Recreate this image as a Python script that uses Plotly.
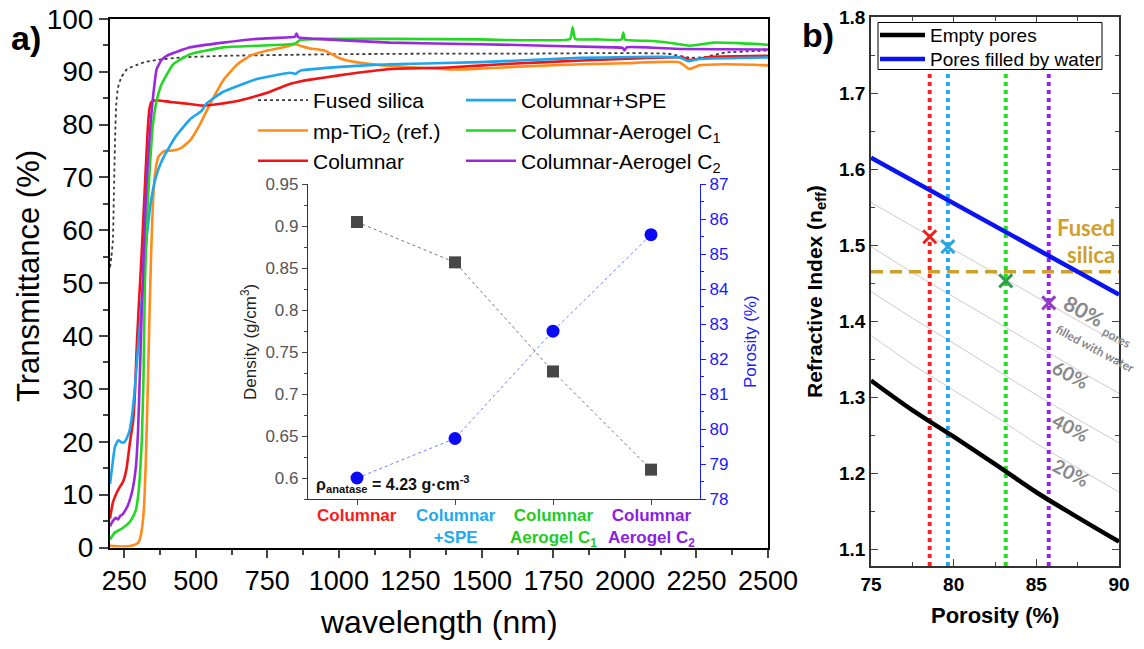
import plotly.graph_objects as go

W, H = 1144, 649
def px(x): return x / W
def py(y): return 1 - y / H

# ---------------- Panel a: transmittance spectra ----------------
fs_wl = [200, 205, 210, 214, 218, 222, 228, 240, 260, 290, 320, 360, 450, 600, 850, 1000, 1300, 1600, 1900, 2150, 2230, 2280, 2350, 2450, 2500]
fs_T  = [53, 55, 58, 68, 78, 84, 87, 89, 90.5, 91.2, 91.8, 92.2, 92.7, 93.0, 93.2, 93.3, 93.4, 93.4, 93.5, 93.4, 92.6, 92.8, 93.6, 93.9, 94.0]

ti_wl = [200, 240, 270, 290, 300, 310, 318, 325, 332, 338, 344, 350, 358, 370, 390, 420, 450, 480, 515, 550, 595, 645, 690, 750, 805, 850, 870, 900, 950, 1000, 1060, 1180, 1300, 1400, 1500, 1650, 1850, 2000, 2190, 2225, 2260, 2350, 2450, 2500]
ti_T  = [0.3, 0.2, 0.3, 0.6, 1.0, 3.0, 7, 16, 30, 44, 56, 65, 71, 74, 75, 75.1, 75.6, 77, 80.1, 83.9, 88.3, 91.4, 93, 94, 94.6, 95.2, 94.8, 94.4, 94, 92.6, 91.8, 91.1, 90.7, 90.4, 90.6, 91.0, 91.4, 91.6, 91.8, 90.5, 91.2, 91.4, 91.3, 91.2]

col_wl = [200, 210, 223, 235, 246, 258, 270, 281, 287, 293, 300, 311, 320, 328, 333, 338, 345, 360, 380, 420, 480, 520, 580, 650, 750, 830, 860, 900, 1000, 1180, 1380, 1600, 1850, 2080, 2200, 2230, 2300, 2500]
col_T  = [5.5, 8.5, 10.3, 11.5, 12.5, 15, 20, 24, 29, 37.5, 45, 56, 66, 75, 80, 83, 84.3, 84.6, 84.5, 84.2, 83.9, 83.6, 83.9, 84.5, 86, 87.7, 88.1, 88.5, 89.3, 90.5, 90.8, 91.5, 92.1, 92.6, 92.7, 92.2, 92.8, 93.0]

spe_wl = [200, 208, 217, 229, 240, 250, 258, 268, 276, 285, 293, 302, 311, 320, 328, 338, 348, 360, 380, 410, 433, 480, 520, 538, 596, 713, 829, 850, 865, 1062, 1179, 1493, 1843, 2192, 2220, 2260, 2500]
spe_T  = [12, 15.5, 19, 20.3, 19.9, 19.9, 20.6, 22, 24.5, 29, 34.4, 40.5, 46.9, 53, 58.5, 63.5, 67, 70, 73, 76, 78, 81, 82.6, 84, 86.2, 88.6, 89.8, 89.6, 90.2, 91.1, 91.4, 91.8, 92.6, 92.7, 92.0, 92.4, 92.7]

c1_wl = [200, 216, 242, 267, 280, 290, 299, 305, 311, 317, 322, 330, 337, 343, 350, 363, 381, 421, 480, 596, 713, 829, 850, 864, 946, 1179, 1493, 1808, 1817, 1826, 1900, 1988, 1994, 2000, 2100, 2192, 2230, 2309, 2400, 2500]
c1_T  = [1.5, 2.8, 3.6, 4.7, 5.8, 7, 10, 14, 20, 32, 50, 63, 70, 75, 80, 84.5, 87.7, 91.4, 93.3, 94.6, 94.9, 95.2, 95.4, 96, 96.2, 96.2, 96.1, 96.2, 98.4, 96.2, 96.1, 96.1, 97.4, 96.1, 95.8, 95.2, 94.9, 95.5, 95.4, 95.1]

c2_wl = [200, 210, 220, 228, 236, 245, 262, 279, 290, 298, 304, 310, 316, 322, 328, 335, 343, 351, 363, 380, 398, 480, 596, 713, 829, 846, 852, 858, 922, 1179, 1493, 1959, 1992, 1998, 2006, 2192, 2500]
c2_T  = [4, 5, 5.6, 5.3, 6.0, 6.3, 7.9, 11, 15, 22, 32, 43, 53, 62, 69, 75, 81, 85.5, 90.5, 92.2, 93, 94.6, 95.5, 96.2, 96.5, 96.6, 97.2, 96.5, 96.2, 95.5, 95.2, 94.6, 94.5, 94.0, 94.6, 94.3, 94.2]

wl_ticks = [250, 500, 750, 1000, 1250, 1500, 1750, 2000, 2250, 2500]
T_ticks = [0, 10, 20, 30, 40, 50, 60, 70, 80, 90, 100]

# ---------------- Inset: density / porosity ----------------
inset_cats = [0, 1, 2, 3]
inset_labels = ["Columnar", "Columnar<br>+SPE", "Columnar<br>Aerogel C<sub>1</sub>", "Columnar<br>Aerogel C<sub>2</sub>"]
inset_colors = ["#FF1A1A", "#1EAAF0", "#22CC22", "#8C1EE6"]
density = [0.905, 0.857, 0.727, 0.610]
porosity_inset = [78.6, 79.73, 82.8, 85.56]
dens_ticks = [0.6, 0.65, 0.7, 0.75, 0.8, 0.85, 0.9, 0.95]
dens_ticktext = ["0.6", "0.65", "0.7", "0.75", "0.8", "0.85", "0.9", "0.95"]
por_ticks = [78, 79, 80, 81, 82, 83, 84, 85, 86, 87]

# ---------------- Panel b: refractive index ----------------
por_grid = [75, 77.5, 80, 82.5, 85, 87.5, 90]
n_empty = [1.322, 1.283, 1.248, 1.212, 1.175, 1.142, 1.110]
n_water = [1.615, 1.585, 1.555, 1.525, 1.495, 1.465, 1.435]
n_20 = [1.381, 1.343, 1.309, 1.275, 1.239, 1.207, 1.175]
n_40 = [1.439, 1.404, 1.371, 1.337, 1.303, 1.271, 1.240]
n_60 = [1.498, 1.464, 1.432, 1.400, 1.367, 1.336, 1.305]
n_80 = [1.556, 1.525, 1.494, 1.462, 1.431, 1.400, 1.370]
sample_por = [78.55, 79.65, 83.15, 85.75]
sample_n = [1.511, 1.498, 1.453, 1.424]
vline_n = [1.078, 1.725]
fused_silica_n = 1.465
b_xticks = [75, 80, 85, 90]
b_yticks = [1.1, 1.2, 1.3, 1.4, 1.5, 1.6, 1.7, 1.8]
b_yticktext = ["1.1", "1.2", "1.3", "1.4", "1.5", "1.6", "1.7", "1.8"]
b_legend_names = ["Empty pores", "Pores filled by water"]
b_legend_colors = ["black", "#0A14F0"]

vcolors = ["#FF2020", "#22AAEE", "#22DD22", "#9922EE"]
xcolors = ["#E8201F", "#2BA5E0", "#2E9E4E", "#8E3FC0"]

fig = go.Figure()

# Panel a traces
series = [
    ("Fused silica", fs_wl, fs_T, "#3A3A3A", "dot", 1.8, "legend"),
    ("mp-TiO<sub>2</sub> (ref.)", ti_wl, ti_T, "#FF8C1A", "solid", 2.6, "legend"),
    ("Columnar", col_wl, col_T, "#F01414", "solid", 2.6, "legend"),
    ("Columnar+SPE", spe_wl, spe_T, "#1EA5EF", "solid", 2.6, "legend2"),
    ("Columnar-Aerogel C<sub>1</sub>", c1_wl, c1_T, "#22D822", "solid", 2.6, "legend2"),
    ("Columnar-Aerogel C<sub>2</sub>", c2_wl, c2_T, "#9A28DC", "solid", 2.6, "legend2"),
]
for name, xs, ys, c, d, w, lg in series:
    fig.add_trace(go.Scatter(x=xs, y=ys, mode="lines", name=name,
                             line=dict(color=c, dash=d, width=w, shape="spline", smoothing=0.4),
                             xaxis="x", yaxis="y", legend=lg))

# Inset traces
fig.add_trace(go.Scatter(x=inset_cats, y=density, mode="lines+markers", name="Density",
                         line=dict(color="#777777", dash="dot", width=1),
                         marker=dict(symbol="square", size=12, color="#474747"),
                         xaxis="x2", yaxis="y2", showlegend=False))
fig.add_trace(go.Scatter(x=inset_cats, y=porosity_inset, mode="lines+markers", name="Porosity",
                         line=dict(color="#6F7CFF", dash="dot", width=1),
                         marker=dict(symbol="circle", size=13, color="#0A0AF5"),
                         xaxis="x2", yaxis="y3", showlegend=False))

# Panel b traces
for ys in (n_20, n_40, n_60, n_80):
    fig.add_trace(go.Scatter(x=por_grid, y=ys, mode="lines",
                             line=dict(color="#CCCCCC", width=1),
                             xaxis="x4", yaxis="y4", showlegend=False))
for p, c in zip(sample_por, vcolors):
    fig.add_trace(go.Scatter(x=[p, p], y=vline_n, mode="lines",
                             line=dict(color=c, width=4, dash="dot"),
                             xaxis="x4", yaxis="y4", showlegend=False))
fig.add_trace(go.Scatter(x=[por_grid[0], por_grid[-1]], y=[fused_silica_n, fused_silica_n], mode="lines",
                         line=dict(color="#CFA02A", width=3.5, dash="12px,7px"),
                         xaxis="x4", yaxis="y4", showlegend=False))
fig.add_trace(go.Scatter(x=por_grid, y=n_empty, mode="lines", name=b_legend_names[0],
                         line=dict(color=b_legend_colors[0], width=4.5, shape="spline"),
                         xaxis="x4", yaxis="y4", showlegend=False))
fig.add_trace(go.Scatter(x=por_grid, y=n_water, mode="lines", name=b_legend_names[1],
                         line=dict(color=b_legend_colors[1], width=4.5),
                         xaxis="x4", yaxis="y4", showlegend=False))
for p, n, c in zip(sample_por, sample_n, xcolors):
    fig.add_trace(go.Scatter(x=[p], y=[n], mode="markers",
                             marker=dict(symbol="x-thin", size=13, line=dict(color=c, width=3)),
                             xaxis="x4", yaxis="y4", showlegend=False))

AR = "Liberation Sans, Arial, sans-serif"
CAL = "Lato, Open Sans, sans-serif"

fig.update_layout(
    width=W, height=H, margin=dict(l=0, r=0, t=0, b=0, pad=0, autoexpand=False),
    paper_bgcolor="white", plot_bgcolor="white",
    font=dict(family=AR, color="black"),
    xaxis=dict(domain=[px(110), px(768)], anchor="y", range=[200, 2500], automargin=False,
               tickvals=wl_ticks, ticks="outside", ticklen=8, tickwidth=2,
               showline=True, mirror=True, linewidth=2, linecolor="black",
               showgrid=False, zeroline=False, tickfont=dict(size=27, family=AR),
               minor=dict(tick0=0, dtick=125, ticks="outside", ticklen=5, tickwidth=1.5)),
    yaxis=dict(domain=[py(547.5), py(18.8)], anchor="x", range=[0, 100], automargin=False,
               tickvals=T_ticks, ticks="outside", ticklen=9, tickwidth=2,
               showline=True, mirror=True, linewidth=2, linecolor="black",
               showgrid=False, zeroline=False, tickfont=dict(size=28, family=AR),
               minor=dict(tick0=0, dtick=5, ticks="outside", ticklen=5, tickwidth=1.5)),
    xaxis2=dict(domain=[px(308), px(700)], anchor="y2", range=[-0.5, 3.5], automargin=False,
                tickvals=inset_cats, ticks="outside", ticklen=5, showticklabels=False,
                showline=True, linewidth=1.2, linecolor="#333", showgrid=False, zeroline=False),
    xaxis3=dict(overlaying="x2", anchor="y2", side="top", range=[-0.5, 3.5], automargin=False,
                tickvals=inset_cats, ticks="inside", ticklen=5, showticklabels=False,
                showline=True, linewidth=1.2, linecolor="#333", showgrid=False, zeroline=False),
    yaxis2=dict(domain=[py(499), py(184.3)], anchor="x2", range=[0.575, 0.95], automargin=False,
                tickvals=dens_ticks, ticktext=dens_ticktext, ticks="outside", ticklen=5,
                showline=True, linewidth=1.2, linecolor="#333", showgrid=False, zeroline=False,
                tickfont=dict(size=17, color="#555555", family=AR),
                minor=dict(tick0=0, dtick=0.025, ticks="outside", ticklen=3)),
    yaxis3=dict(overlaying="y2", anchor="x2", side="right", range=[78, 87], automargin=False,
                tickvals=por_ticks, ticks="outside", ticklen=5, tickcolor="#1a1aff",
                showline=True, linewidth=1.2, linecolor="#1a1aff", showgrid=False, zeroline=False,
                tickfont=dict(size=17, color="#1a1aff", family=AR),
                minor=dict(tick0=0, dtick=0.5, ticks="outside", ticklen=3, tickcolor="#1a1aff")),
    xaxis4=dict(domain=[px(871), px(1119)], anchor="y4", range=[75, 90], automargin=False,
                tickvals=b_xticks, ticks="inside", ticklen=7, tickwidth=1.3,
                showline=True, mirror="ticks", linewidth=1.5, linecolor="#333",
                showgrid=False, zeroline=False,
                tickfont=dict(size=19, family=AR, weight="bold"),
                minor=dict(tick0=0, dtick=2.5, ticks="inside", ticklen=4)),
    yaxis4=dict(domain=[py(566), py(17)], anchor="x4", range=[1.078, 1.8], automargin=False,
                tickvals=b_yticks, ticktext=b_yticktext, ticks="inside", ticklen=7, tickwidth=1.3,
                showline=True, mirror="ticks", linewidth=1.5, linecolor="#333",
                showgrid=False, zeroline=False,
                tickfont=dict(size=19, family=AR, weight="bold"),
                minor=dict(tick0=0, dtick=0.05, ticks="inside", ticklen=4)),
    legend=dict(x=px(253), y=py(80), xanchor="left", yanchor="top",
                bgcolor="rgba(0,0,0,0)", font=dict(size=21, family=AR), itemwidth=50,
                tracegroupgap=0),
    legend2=dict(x=px(461), y=py(80), xanchor="left", yanchor="top",
                 bgcolor="rgba(0,0,0,0)", font=dict(size=21, family=AR), itemwidth=50),
)

# Panel b legend box (drawn as a framed key)
shapes = [dict(type="rect", xref="paper", yref="paper", x0=px(878), x1=px(1102), y0=py(69.5), y1=py(22.5),
               line=dict(color="black", width=1), fillcolor="white", layer="above")]
key_y = [35, 59]
for name, c, yk in zip(b_legend_names, b_legend_colors, key_y):
    shapes.append(dict(type="line", xref="paper", yref="paper", x0=px(880), x1=px(925), y0=py(yk), y1=py(yk),
                       line=dict(color=c, width=4.5), layer="above"))
fig.update_layout(shapes=shapes)

ann = [
    dict(text="<b>a)</b>", x=px(26), y=py(38), font=dict(size=34)),
    dict(text="<b>b)</b>", x=px(818), y=py(35), font=dict(size=34)),
    dict(text="Transmittance (%)", x=px(28), y=py(276), textangle=-90, font=dict(size=31)),
    dict(text="wavelength (nm)", x=px(439), y=py(622), font=dict(size=32)),
    dict(text="<b>Refractive Index (n<sub>eff</sub>)</b>", x=px(816), y=py(292), textangle=-90, font=dict(size=21)),
    dict(text="<b>Porosity (%)</b>", x=px(995), y=py(615), font=dict(size=22)),
    dict(text="Density (g/cm<sup>3</sup>)", x=px(249), y=py(342), textangle=-90, font=dict(size=17, color="#222")),
    dict(text="Porosity (%)", x=px(750), y=py(342), textangle=-90, font=dict(size=17, color="#1a1aff")),
    dict(text="<b>ρ<sub>anatase</sub> = 4.23 g·cm<sup>-3</sup></b>", x=px(314), y=py(484), xanchor="left",
         font=dict(size=16, color="#111")),
    dict(text="<b>Fused</b>", x=px(1086), y=py(227), font=dict(size=22, family=CAL, color="#CFA02A")),
    dict(text="<b>silica</b>", x=px(1091), y=py(254), font=dict(size=22, family=CAL, color="#CFA02A")),
    dict(text="<b>80%</b>", x=px(1084), y=py(311), textangle=28, font=dict(size=21, family=CAL, color="#888888")),
    dict(text="<b>pores</b>", x=px(1117), y=py(337), textangle=28, font=dict(size=12, family=CAL, color="#888888")),
    dict(text="<b>filled with water</b>", x=px(1095), y=py(348), textangle=28, font=dict(size=12, family=CAL, color="#888888")),
    dict(text="<b>60%</b>", x=px(1071), y=py(374), textangle=28, font=dict(size=19, family=CAL, color="#888888")),
    dict(text="<b>40%</b>", x=px(1071), y=py(427), textangle=28, font=dict(size=19, family=CAL, color="#888888")),
    dict(text="<b>20%</b>", x=px(1071), y=py(473), textangle=28, font=dict(size=19, family=CAL, color="#888888")),
]
# inset category labels, coloured like their samples
cat_px = [357, 455.5, 553.5, 651]
for lab, c, xc in zip(inset_labels, inset_colors, cat_px):
    ann.append(dict(text="<b>" + lab + "</b>", x=px(xc), y=py(504), yanchor="top",
                    font=dict(size=17, color=c)))
# panel b key labels
for name, yk in zip(b_legend_names, key_y):
    ann.append(dict(text=name, x=px(928), y=py(yk), xanchor="left", font=dict(size=19)))

for a in ann:
    a.setdefault("xref", "paper")
    a.setdefault("yref", "paper")
    a.setdefault("showarrow", False)
    a.setdefault("xanchor", "center")
    a.setdefault("yanchor", "middle")
fig.update_layout(annotations=ann)

fig.write_html("out.html")
